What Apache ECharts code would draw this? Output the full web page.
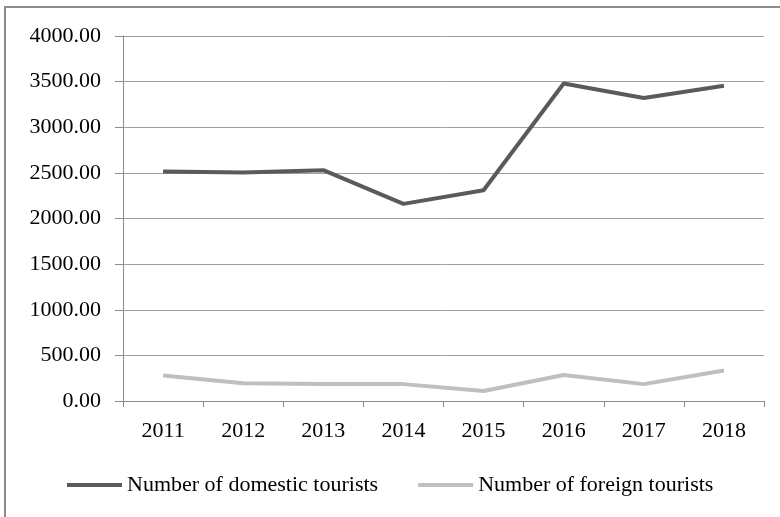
<!DOCTYPE html>
<html>
<head>
<meta charset="utf-8">
<script src="https://cdn.jsdelivr.net/npm/echarts@6/dist/echarts.min.js"></script>
<style>
  html, body { margin: 0; padding: 0; background: #fff; }
  #main { width: 780px; height: 517px; }
</style>
</head>
<body>
<div id="main"></div>
<script>
const years = ['2011', '2012', '2013', '2014', '2015', '2016', '2017', '2018'];
const domesticTourists = [2515, 2505, 2530, 2160, 2310, 3480, 3320, 3455];
const foreignTourists = [280, 195, 185, 185, 110, 285, 185, 335];
const seriesNames = ['Number of domestic tourists', 'Number of foreign tourists'];

const chart = echarts.init(document.getElementById('main'));
const font = 'Liberation Serif';

const option = {
    animation: false,
    backgroundColor: '#fff',
    graphic: [
        {
            type: 'rect',
            shape: { x: 5, y: 7, width: 800, height: 600 },
            style: { fill: 'none', stroke: '#8c8c8c', lineWidth: 2 }
        }
    ],
    grid: { left: 123, right: 16, top: 36, bottom: 116 },
    legend: {
        data: seriesNames,
        left: 62,
        top: 469,
        icon: 'rect',
        itemWidth: 55,
        itemHeight: 4,
        itemGap: 40,
        textStyle: { fontFamily: font, fontSize: 22, color: '#000' }
    },
    xAxis: {
        type: 'category',
        data: years,
        boundaryGap: true,
        axisLine: { lineStyle: { color: '#8c8c8c', width: 1 } },
        axisTick: { show: true, length: 6, lineStyle: { color: '#8c8c8c' } },
        axisLabel: { fontFamily: font, fontSize: 22, color: '#000', margin: 19 }
    },
    yAxis: {
        type: 'value',
        min: 0,
        max: 4000,
        interval: 500,
        axisLine: { show: true, lineStyle: { color: '#8c8c8c', width: 1 } },
        axisTick: { show: true, length: 8, lineStyle: { color: '#8c8c8c' } },
        axisLabel: {
            fontFamily: font,
            fontSize: 22,
            color: '#000',
            margin: 22,
            formatter: v => v.toFixed(2)
        },
        splitLine: { lineStyle: { color: '#a0a0a0', width: 1 } }
    },
    series: [
        {
            name: seriesNames[0],
            type: 'line',
            data: domesticTourists,
            showSymbol: false,
            color: '#5a5a5a',
            lineStyle: { width: 4, color: '#5a5a5a' }
        },
        {
            name: seriesNames[1],
            type: 'line',
            data: foreignTourists,
            showSymbol: false,
            color: '#bfbfbf',
            lineStyle: { width: 4, color: '#bfbfbf' }
        }
    ]
};

chart.setOption(option);
</script>
</body>
</html>
